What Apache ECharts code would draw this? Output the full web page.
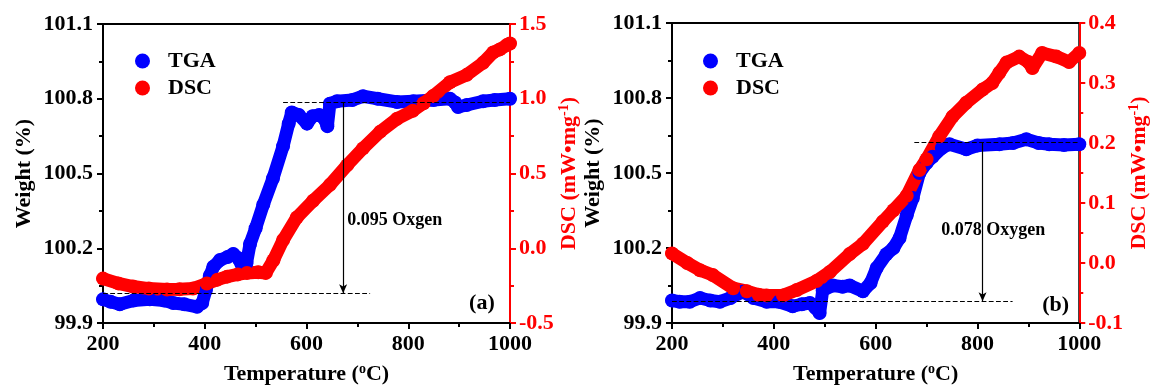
<!DOCTYPE html>
<html>
<head>
<meta charset="utf-8">
<script src="https://cdn.jsdelivr.net/npm/echarts@6/dist/echarts.min.js"></script>
<style>
  html, body { margin: 0; padding: 0; background: #fff; }
  #chart { width: 1151px; height: 390px; }
</style>
</head>
<body>
<div id="chart"></div>
<script>
// panel (a): [temperature, value]
const tgaA = [
  [200, 99.995], [215, 99.985], [233, 99.975], [260, 99.99], [292, 99.995], [320, 99.99],
  [338, 99.98], [360, 99.975], [385, 99.965], [395, 99.98], [402, 100.03], [410, 100.09],
  [417, 100.126], [430, 100.153], [445, 100.165], [456, 100.177], [466, 100.16], [475, 100.12],
  [482, 100.14], [489, 100.217], [500, 100.28], [515, 100.375], [534, 100.48], [554, 100.61],
  [565, 100.70], [571, 100.745], [585, 100.735], [601, 100.70], [612, 100.73], [625, 100.735],
  [635, 100.72], [641, 100.69], [646, 100.78], [660, 100.79], [690, 100.795], [711, 100.81],
  [740, 100.80], [778, 100.787], [810, 100.79], [850, 100.795], [882, 100.80], [892, 100.785],
  [898, 100.767], [915, 100.775], [947, 100.79], [970, 100.795], [1000, 100.80]
];
const dscA = [
  [200, -0.203], [230, -0.235], [259, -0.256], [290, -0.27], [326, -0.276], [350, -0.275],
  [377, -0.27], [404, -0.236], [425, -0.21], [444, -0.19], [465, -0.175], [483, -0.165],
  [505, -0.16], [520, -0.165], [535, -0.08], [554, 0.055], [581, 0.206], [613, 0.318],
  [646, 0.424], [680, 0.556], [711, 0.668], [745, 0.78], [778, 0.866], [809, 0.92],
  [830, 0.97], [849, 1.018], [882, 1.11], [915, 1.16], [947, 1.24], [967, 1.31],
  [980, 1.33], [994, 1.36], [1000, 1.37]
];

// panel (b)
const tgaB = [
  [200, 99.99], [215, 99.985], [235, 99.985], [255, 100.0], [275, 99.99], [294, 99.985],
  [315, 100.0], [339, 100.025], [360, 100.0], [386, 99.985], [410, 99.985], [437, 99.967],
  [455, 99.975], [471, 99.98], [482, 99.96], [490, 99.94], [496, 100.03], [516, 100.05],
  [535, 100.045], [549, 100.05], [575, 100.027], [590, 100.06], [602, 100.12], [621, 100.175],
  [635, 100.2], [647, 100.24], [661, 100.33], [673, 100.4], [686, 100.5], [700, 100.54],
  [712, 100.565], [730, 100.6], [745, 100.615], [778, 100.595], [800, 100.61], [843, 100.615],
  [870, 100.62], [896, 100.635], [920, 100.62], [941, 100.615], [970, 100.612], [1000, 100.615]
];
const dscB = [
  [200, 0.016], [230, 0.0], [255, -0.012], [280, -0.02], [320, -0.042], [347, -0.047],
  [370, -0.053], [386, -0.054], [418, -0.054], [445, -0.045], [484, -0.03], [510, -0.015],
  [549, 0.015], [575, 0.032], [614, 0.069], [635, 0.088], [661, 0.112], [686, 0.155],
  [700, 0.173], [725, 0.211], [751, 0.244], [778, 0.267], [810, 0.289], [829, 0.30],
  [843, 0.317], [857, 0.334], [882, 0.344], [900, 0.335], [908, 0.325], [927, 0.35],
  [955, 0.344], [980, 0.335], [1000, 0.35]
];

// dashed guide levels (weight %) and arrow temperature
const guideA = { high: 100.787, highFrom: 554, low: 100.019, lowTo: 725, arrowAt: 672 };
const guideB = { high: 100.623, highFrom: 676, low: 99.987, lowTo: 869, arrowAt: 810 };

const tempTicks = { min: 200, max: 1000, step: 200 };
const weightTicks = { min: 99.9, max: 101.1, step: 0.3 };
const dscTicksA = { min: -0.5, max: 1.5, step: 0.5 };
const dscTicksB = { min: -0.1, max: 0.4, step: 0.1 };

const FONT = "'Liberation Serif', 'Times New Roman', serif";
const BLUE = '#0000ff';
const RED = '#ff0000';

const chart = echarts.init(document.getElementById('chart'));

function xAxisFor(gridIndex) {
  return {
    type: 'value', gridIndex: gridIndex,
    min: tempTicks.min, max: tempTicks.max, interval: tempTicks.step,
    name: 'Temperature ({sup|o}C)', nameLocation: 'middle', nameGap: 39,
    nameTextStyle: {
      fontFamily: FONT, fontWeight: 'bold', fontSize: 22, color: '#000',
      rich: { sup: { fontFamily: FONT, fontWeight: 'bold', fontSize: 14, verticalAlign: 'top', padding: [0, 0, 10, 0] } }
    },
    axisLine: { onZero: false, lineStyle: { color: '#000', width: 2 } },
    axisTick: { length: 6, lineStyle: { width: 2, color: '#000' } },
    minorTick: { show: true, splitNumber: 2, length: 4, lineStyle: { width: 2, color: '#000' } },
    splitLine: { show: false },
    axisLabel: {
      fontFamily: FONT, fontWeight: 'bold', fontSize: 22, color: '#000', margin: 10,
      formatter: function (v) { return String(v); }
    }
  };
}

function weightAxis(gridIndex) {
  return {
    type: 'value', gridIndex: gridIndex, position: 'left',
    min: weightTicks.min, max: weightTicks.max, interval: weightTicks.step,
    name: 'Weight (%)', nameLocation: 'middle', nameGap: 68,
    nameTextStyle: { fontFamily: FONT, fontWeight: 'bold', fontSize: 22, color: '#000' },
    axisLine: { show: true, onZero: false, lineStyle: { color: '#000', width: 2 } },
    axisTick: { show: true, length: 6, lineStyle: { width: 2, color: '#000' } },
    minorTick: { show: true, splitNumber: 2, length: 4, lineStyle: { width: 2, color: '#000' } },
    splitLine: { show: false },
    axisLabel: {
      fontFamily: FONT, fontWeight: 'bold', fontSize: 22, color: '#000', margin: 10,
      formatter: function (v) { return v.toFixed(1); }
    }
  };
}

function dscAxis(gridIndex, t) {
  return {
    type: 'value', gridIndex: gridIndex, position: 'right',
    min: t.min, max: t.max, interval: t.step,
    name: 'DSC (mW\u2022mg{sup|-1})', nameLocation: 'middle', nameGap: 45,
    nameTextStyle: {
      fontFamily: FONT, fontWeight: 'bold', fontSize: 22, color: RED,
      rich: { sup: { fontFamily: FONT, fontWeight: 'bold', fontSize: 14, color: RED, verticalAlign: 'top', padding: [0, 0, 10, 0] } }
    },
    axisLine: { show: true, onZero: false, lineStyle: { color: RED, width: 2 } },
    axisTick: { show: true, length: 6, lineStyle: { width: 2, color: RED } },
    minorTick: { show: true, splitNumber: 2, length: 4, lineStyle: { width: 2, color: RED } },
    splitLine: { show: false },
    axisLabel: {
      fontFamily: FONT, fontWeight: 'bold', fontSize: 22, color: RED, margin: 9,
      formatter: function (v) { return v.toFixed(1); }
    }
  };
}

function guides(g) {
  return {
    silent: true, symbol: ['none', 'none'], animation: false,
    label: { show: false },
    lineStyle: { type: 'dashed', color: '#000', width: 1.2 },
    data: [
      [{ coord: [g.highFrom, g.high] }, { coord: [tempTicks.max, g.high] }],
      [{ coord: [tempTicks.min, g.low] }, { coord: [g.lowTo, g.low] }],
      [{ coord: [g.arrowAt, g.high], lineStyle: { type: 'solid', width: 1.2 } },
       { coord: [g.arrowAt, g.low], symbol: 'arrow', symbolSize: [6, 9] }]
    ]
  };
}

function notes(items) {
  return {
    symbol: 'circle', symbolSize: 0, silent: true,
    data: items.map(function (n) {
      return {
        name: n.text, coord: n.at,
        label: {
          show: true, formatter: '{b}', position: n.side, distance: 0,
          fontFamily: FONT, fontWeight: 'bold', fontSize: n.size, color: '#000'
        }
      };
    })
  };
}

function curve(name, data, xi, yi, color, extra) {
  return Object.assign({
    name: name, type: 'line', xAxisIndex: xi, yAxisIndex: yi, data: data,
    symbol: 'circle', symbolSize: 14, showAllSymbol: true,
    lineStyle: { color: color, width: 13, cap: 'round', join: 'round' },
    itemStyle: { color: color },
    animation: false
  }, extra || {});
}

function legendAt(left, top) {
  return {
    orient: 'vertical', left: left, top: top, icon: 'circle',
    itemWidth: 15, itemHeight: 15, itemGap: 5, data: ['TGA', 'DSC'],
    textStyle: { fontFamily: FONT, fontWeight: 'bold', fontSize: 22, color: '#000', padding: [0, 0, 0, 13] }
  };
}

chart.setOption({
  backgroundColor: '#fff',
  animation: false,
  legend: [legendAt(130, 45), legendAt(698, 45)],
  grid: [
    { left: 103, top: 24, width: 407, height: 303, show: true, borderColor: '#000', borderWidth: 2 },
    { left: 672, top: 23, width: 408, height: 302, show: true, borderColor: '#000', borderWidth: 2 }
  ],
  xAxis: [xAxisFor(0), xAxisFor(1)],
  yAxis: [weightAxis(0), dscAxis(0, dscTicksA), weightAxis(1), dscAxis(1, dscTicksB)],
  series: [
    curve('TGA', tgaA, 0, 0, BLUE, {
      markLine: guides(guideA),
      markPoint: notes([
        { text: '0.095 Oxgen', at: [680, 100.312], side: 'right', size: 18 },
        { text: '(a)', at: [970, 99.979], side: 'left', size: 22 }
      ])
    }),
    curve('DSC', dscA, 0, 1, RED),
    curve('TGA', tgaB, 1, 2, BLUE, {
      markLine: guides(guideB),
      markPoint: notes([
        { text: '0.078 Oxygen', at: [729, 100.27], side: 'right', size: 18 },
        { text: '(b)', at: [980, 99.972], side: 'left', size: 22 }
      ])
    }),
    curve('DSC', dscB, 1, 3, RED)
  ]
});

window.addEventListener('resize', function () { chart.resize(); });
</script>
</body>
</html>
